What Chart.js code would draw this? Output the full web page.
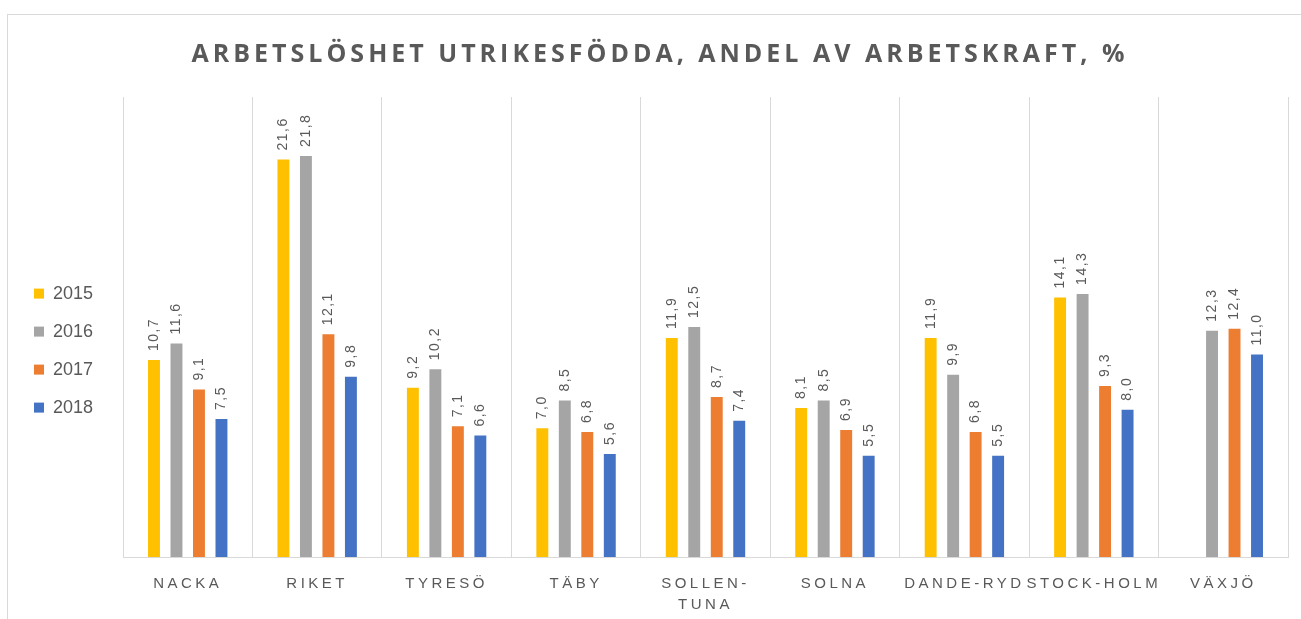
<!DOCTYPE html>
<html lang="sv">
<head>
    <meta charset="UTF-8">
    <title>Arbetslöshet utrikesfödda</title>
    <script src="https://cdn.jsdelivr.net/npm/chart.js"></script>
    <style>
        html, body {
            margin: 0;
            padding: 0;
            background: #ffffff;
            overflow: hidden;
        }
        .frame {
            position: absolute;
            left: 7px;
            top: 14px;
            width: 1400px;
            height: 700px;
            border: 1px solid #d9d9d9;
        }
        #chart {
            position: absolute;
            left: 0;
            top: 0;
        }
    </style>
</head>
<body>
    <div class="frame"></div>
    <canvas id="chart" width="1301" height="619"></canvas>

    <script>
        // data
        const categories = ['NACKA', 'RIKET', 'TYRESÖ', 'TÄBY', ['SOLLEN-', 'TUNA'], 'SOLNA', 'DANDE-RYD', 'STOCK-HOLM', 'VÄXJÖ'];
        const years = ['2015', '2016', '2017', '2018'];
        const values2015 = [10.7, 21.6, 9.2, 7.0, 11.9, 8.1, 11.9, 14.1, null];
        const values2016 = [11.6, 21.8, 10.2, 8.5, 12.5, 8.5, 9.9, 14.3, 12.3];
        const values2017 = [9.1, 12.1, 7.1, 6.8, 8.7, 6.9, 6.8, 9.3, 12.4];
        const values2018 = [7.5, 9.8, 6.6, 5.6, 7.4, 5.5, 5.5, 8.0, 11.0];
        const colors = ['#FFC000', '#A5A5A5', '#ED7D31', '#4472C4'];

        const textColor = '#595959';

        // letter spacing for title and axis labels, none in the legend
        const spacingPlugin = {
            id: 'spacing',
            afterInit(chart) {
                const legend = chart.legend;
                const origFit = legend.fit;
                legend.fit = function () {
                    origFit.apply(this, arguments);
                    this.width = 109;
                };
                const origDraw = legend.draw;
                legend.draw = function () {
                    chart.ctx.letterSpacing = '0px';
                    origDraw.apply(this, arguments);
                    chart.ctx.letterSpacing = '3.5px';
                };
                const title = chart.titleBlock;
                const titleDraw = title.draw;
                title.draw = function () {
                    chart.ctx.save();
                    chart.ctx.translate(9, 0);
                    chart.ctx.letterSpacing = '4px';
                    titleDraw.apply(this, arguments);
                    chart.ctx.restore();
                    chart.ctx.letterSpacing = '3.5px';
                };
            },
            beforeDraw(chart) {
                chart.ctx.letterSpacing = '3.5px';
            }
        };

        // rotated value labels above the bars
        const valueLabels = {
            id: 'valueLabels',
            afterDatasetsDraw(chart) {
                const ctx = chart.ctx;
                ctx.save();
                ctx.letterSpacing = '1.5px';
                ctx.font = '14px "Liberation Sans"';
                ctx.fillStyle = textColor;
                ctx.textAlign = 'left';
                ctx.textBaseline = 'middle';
                chart.data.datasets.forEach((ds, i) => {
                    chart.getDatasetMeta(i).data.forEach((bar, j) => {
                        const v = ds.data[j];
                        if (v === null) return;
                        ctx.save();
                        ctx.translate(bar.x, bar.y - 9);
                        ctx.rotate(-Math.PI / 2);
                        ctx.fillText(v.toFixed(1).replace('.', ','), 0, 0);
                        ctx.restore();
                    });
                });
                ctx.restore();
            }
        };

        const ctx = document.getElementById('chart').getContext('2d');
        new Chart(ctx, {
            type: 'bar',
            data: {
                labels: categories,
                datasets: [values2015, values2016, values2017, values2018].map((d, i) => ({
                    label: years[i],
                    data: d,
                    backgroundColor: colors[i],
                    categoryPercentage: 0.695,
                    barPercentage: 0.53
                }))
            },
            options: {
                responsive: false,
                animation: false,
                layout: {
                    padding: { left: 14, right: 13, top: 0, bottom: 0 }
                },
                plugins: {
                    title: {
                        display: true,
                        text: 'ARBETSLÖSHET UTRIKESFÖDDA, ANDEL AV ARBETSKRAFT, %',
                        color: textColor,
                        font: { family: '"Open Sans"', size: 25, weight: 'bold', lineHeight: 1.2 },
                        padding: { top: 40, bottom: 27 }
                    },
                    legend: {
                        position: 'left',
                        align: 'center',
                        title: {
                            display: true,
                            text: '',
                            font: { size: 16 },
                            padding: { top: 0, bottom: 63 }
                        },
                        labels: {
                            boxWidth: 10,
                            boxHeight: 10,
                            padding: 20,
                            color: textColor,
                            font: { family: '"Liberation Sans"', size: 18 }
                        }
                    },
                    tooltip: { enabled: false }
                },
                scales: {
                    x: {
                        grid: {
                            color: '#d9d9d9',
                            drawTicks: false
                        },
                        border: { color: '#d9d9d9' },
                        ticks: {
                            color: textColor,
                            padding: 16,
                            maxRotation: 0,
                            autoSkip: false,
                            font: { family: '"Liberation Sans"', size: 15, lineHeight: 1.4 }
                        },
                        afterFit(scale) {
                            scale.height = 62;
                        }
                    },
                    y: {
                        display: false,
                        min: 0,
                        max: 25
                    }
                }
            },
            plugins: [spacingPlugin, valueLabels]
        });
    </script>
</body>
</html>
